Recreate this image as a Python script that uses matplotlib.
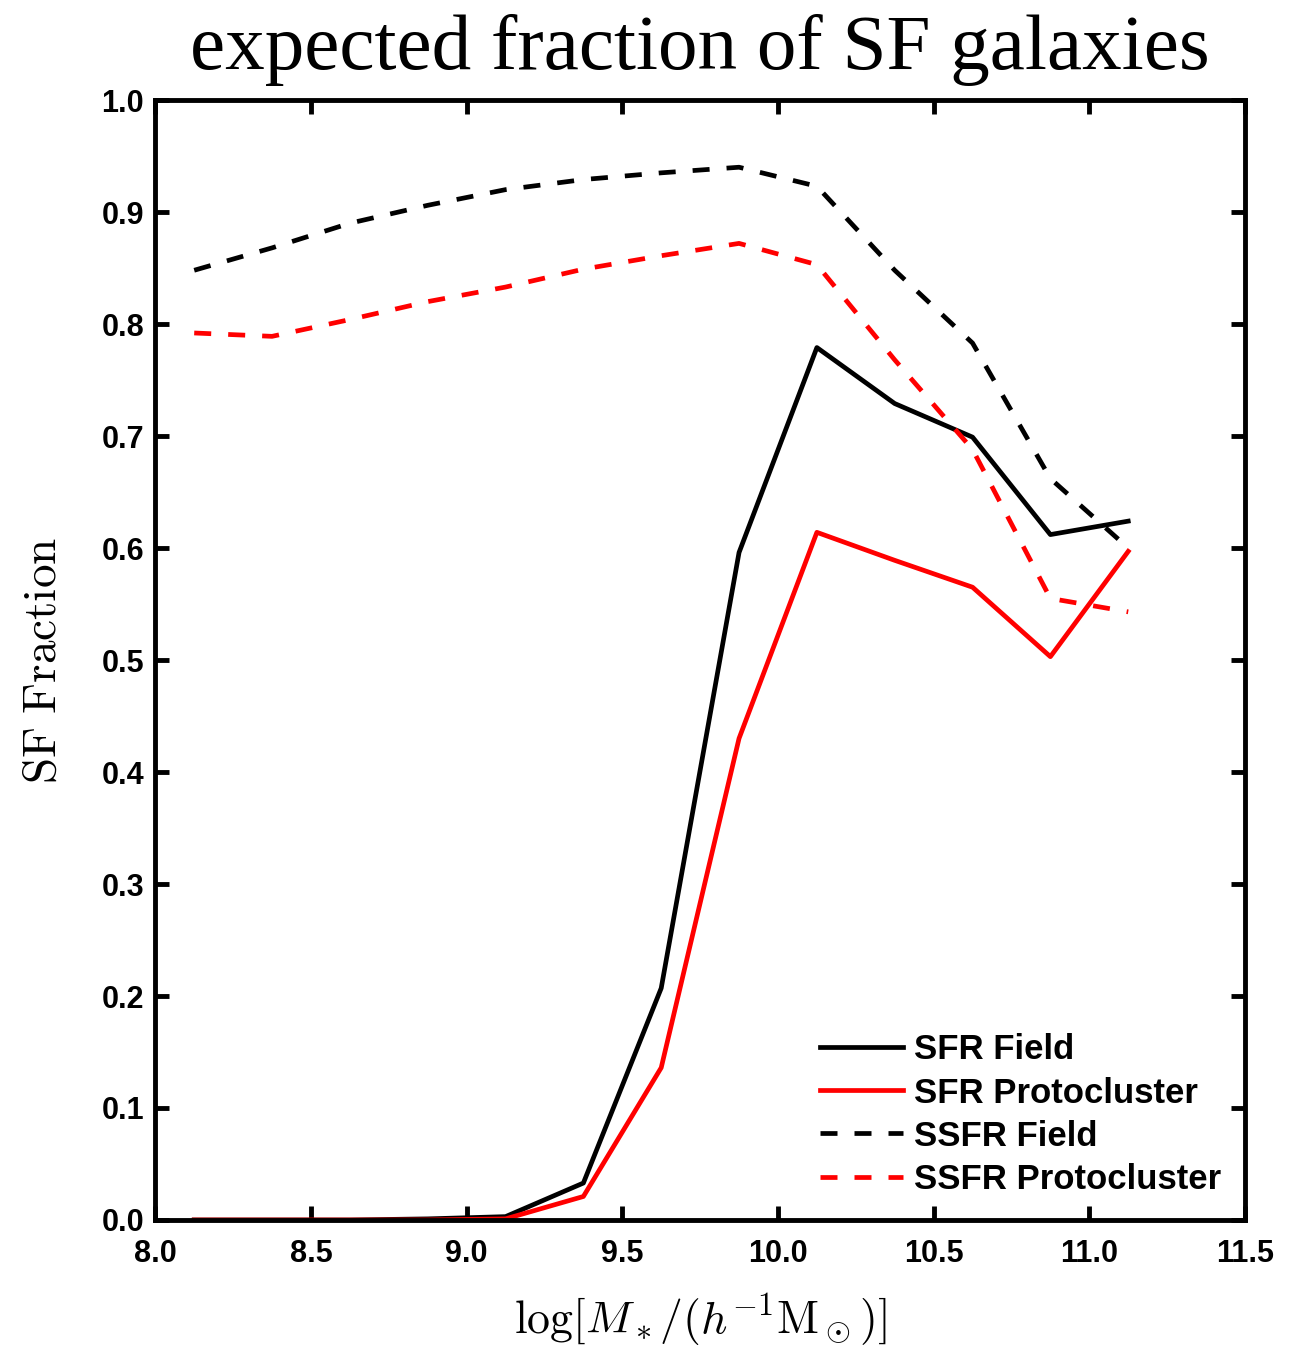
import matplotlib
matplotlib.use('Agg')
import matplotlib.pyplot as plt
import numpy as np

# stellar mass bin centres
log_mass = [8.125, 8.375, 8.625, 8.875, 9.125, 9.375, 9.625,
            9.875, 10.125, 10.375, 10.625, 10.875, 11.125]

sfr_field = [0.0, 0.0, 0.0, 0.001, 0.003, 0.033, 0.207,
             0.596, 0.779, 0.729, 0.699, 0.612, 0.624]
sfr_proto = [0.0, 0.0, 0.0, 0.0, 0.001, 0.021, 0.136,
             0.430, 0.614, 0.589, 0.565, 0.503, 0.597]
ssfr_field = [0.848, 0.868, 0.890, 0.906, 0.920, 0.929, 0.935,
              0.940, 0.923, 0.848, 0.783, 0.662, 0.600]
ssfr_proto = [0.792, 0.789, 0.804, 0.820, 0.833, 0.849, 0.861,
              0.872, 0.853, 0.768, 0.688, 0.555, 0.543]

xticks = np.arange(8.0, 11.51, 0.5)
yticks = np.arange(0.0, 1.01, 0.1)

plt.rcParams['mathtext.fontset'] = 'cm'

fig = plt.figure(figsize=(13.05, 13.5), dpi=100)
ax = fig.add_axes([0.119, 0.0963, 0.835, 0.8296])

lw = 3.4
ax.plot(log_mass, sfr_field, color='black', lw=lw, label='SFR Field')
ax.plot(log_mass, sfr_proto, color='red', lw=lw, label='SFR Protocluster')
ax.plot(log_mass, ssfr_field, color='black', lw=lw, dashes=(3.6, 3.6),
        label='SSFR Field')
ax.plot(log_mass, ssfr_proto, color='red', lw=lw, dashes=(3.6, 3.6),
        label='SSFR Protocluster')

ax.set_xlim(8.0, 11.5)
ax.set_ylim(0.0, 1.0)
ax.set_xticks(xticks)
ax.set_yticks(yticks)
ax.set_xticklabels([f'{v:.1f}' for v in xticks])
ax.set_yticklabels([f'{v:.1f}' for v in yticks])

for s in ax.spines.values():
    s.set_linewidth(3.5)
ax.tick_params(direction='in', length=10, width=3.5, top=True, right=True)
ax.tick_params(axis='x', pad=14)
ax.tick_params(axis='y', pad=8)
for lab in ax.get_xticklabels() + ax.get_yticklabels():
    lab.set_fontfamily('Liberation Sans')
    lab.set_fontweight('bold')
    lab.set_fontsize(22)

ax.set_title('expected fraction of SF galaxies', family='Liberation Serif',
             fontsize=57, pad=22)
ax.set_ylabel(r'$\mathrm{SF\ Fraction}$', fontsize=34, labelpad=26)
ax.set_xlabel(r'$\log[M_*/(h^{-1}\mathrm{M}_\odot)]$', fontsize=33,
              labelpad=16)

leg = ax.legend(loc='lower right', frameon=False, handlelength=2.4,
                handletextpad=0.3, labelspacing=0.29, borderaxespad=0.3,
                prop={'family': 'Liberation Sans', 'weight': 'bold',
                      'size': 25})

fig.savefig('out.png', dpi=100)
